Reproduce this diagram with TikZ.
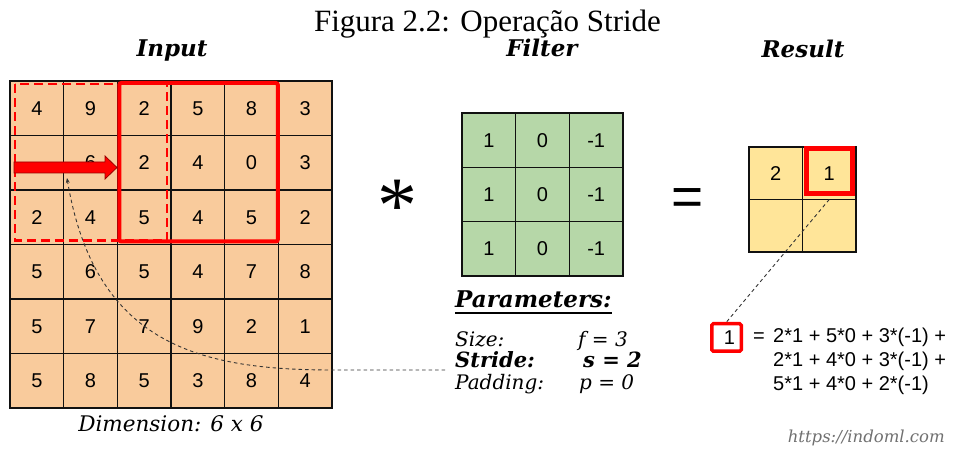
\documentclass[tikz,border=0pt]{standalone}
\usepackage{fontspec}
\setmainfont{Liberation Serif}
\setsansfont{Liberation Sans}
\newfontfamily\geo{DejaVu Serif}
\usetikzlibrary{calc,arrows.meta}

\definecolor{inputfill}{HTML}{F9CB9C}
\definecolor{filterfill}{HTML}{B6D7A8}
\definecolor{resultfill}{HTML}{FFE599}
\definecolor{hlred}{HTML}{FF0000}
\definecolor{arrowedge}{HTML}{990000}
\definecolor{gridline}{HTML}{111111}
\definecolor{linkgray}{HTML}{333333}
\definecolor{urlgray}{HTML}{707070}

\begin{document}
\begin{tikzpicture}[x=1bp, y={(0bp,-1bp)},
  num/.style={font=\sffamily\fontsize{20bp}{24bp}\selectfont},
  cell/.style={draw=gridline, line width=1.1bp, inner sep=0pt, outer sep=0pt, num},
  incell/.style={cell, fill=inputfill, minimum width=53.67bp, minimum height=54.5bp},
  fcell/.style={cell, fill=filterfill, minimum width=53.67bp, minimum height=54.33bp},
  rcell/.style={cell, fill=resultfill, minimum width=53.5bp, minimum height=52.5bp},
  heading/.style={font=\geo\bfseries\itshape\fontsize{23bp}{26bp}\selectfont, anchor=base, inner sep=0pt},
  param/.style={font=\geo\itshape\fontsize{20bp}{23bp}\selectfont, anchor=base west, inner sep=0pt},
  parambold/.style={font=\geo\bfseries\itshape\fontsize{21bp}{24bp}\selectfont, anchor=base west, inner sep=0pt},
  formula/.style={font=\sffamily\fontsize{20bp}{23bp}\selectfont, anchor=base west, inner sep=0pt},
  window/.style={draw=hlred, line width=4bp, rounded corners=2bp},
  link/.style={draw=linkgray, line width=0.9bp, dash pattern=on 3.5bp off 3bp}
]
\useasboundingbox (0,0) rectangle (960,450);

% caption
\node[font=\fontsize{31bp}{36bp}\selectfont, anchor=base, inner sep=0pt] (caption) at (487.5,32) {Figura 2.2: Operação Stride};

% headings
\node[heading] (hinput) at (172,57) {Input};
\node[heading] (hfilter) at (542,57) {Filter};
\node[heading] (hresult) at (803,58) {Result};

% 6x6 input
\foreach \rowvals [count=\r] in {{4,9,2,5,8,3},{{},6,2,4,0,3},{2,4,5,4,5,2},{5,6,5,4,7,8},{5,7,7,9,2,1},{5,8,5,3,8,4}}{
  \foreach \v [count=\c] in \rowvals {
    \node[incell] (in-\r-\c) at ({10+53.67*(\c-0.5)},{81+54.5*(\r-0.5)}) {\v};
  }
}

% 3x3 filter
\foreach \rowvals [count=\r] in {{1,0,-1},{1,0,-1},{1,0,-1}}{
  \foreach \v [count=\c] in \rowvals {
    \node[fcell] (f-\r-\c) at ({462+53.67*(\c-0.5)},{113+54.33*(\r-0.5)}) {\v};
  }
}

% 2x2 result
\foreach \rowvals [count=\r] in {{2,1},{{},{}}}{
  \foreach \v [count=\c] in \rowvals {
    \node[rcell] (res-\r-\c) at ({749+53.5*(\c-0.5)},{147+52.5*(\r-0.5)}) {\v};
  }
}

% previous window (dashed) and current window (solid)
\draw[hlred, line width=2.5bp, dash pattern=on 9bp off 5bp]
  ($(in-1-1.north west)+(5.25,3.25)$) rectangle ($(in-3-3.south east)+(-4.25,-3.75)$);
\draw[window] ($(in-1-3.north west)+(2,2)$) rectangle ($(in-3-5.south east)+(-0.5,-3)$);

% stride arrow
\fill[hlred, draw=arrowedge, line width=0.8bp]
  (14,162) -- (105,162) -- (105,156) -- (117,167.5) -- (105,179) -- (105,173) -- (14,173) -- cycle;
\coordinate (arrowfoot) at (67,178);

% operators
\node[font=\fontsize{80bp}{80bp}\selectfont, anchor=base, inner sep=0pt] (conv) at (397,233) {*};
\node[font=\sffamily\fontsize{55bp}{55bp}\selectfont, anchor=center, inner sep=0pt] (equals) at (688,202) {=};

% highlighted result value
\draw[hlred, line width=5bp] ($(res-1-2.north west)+(4,2)$) rectangle ($(res-1-2.south east)+(-3.5,-5.5)$);

% parameters
\node[parambold, font=\geo\bfseries\itshape\fontsize{23bp}{26bp}\selectfont] (params) at (455,308) {Parameters:};
\draw[line width=1.5bp] ($(params.base west)+(0,5)$) -- ($(params.base east)+(0,5)$);
\node[param] (size) at (455,347) {Size:};
\node[param] (fval) at (578,347) {f = 3};
\node[parambold] (stride) at (455,368) {Stride:};
\node[parambold] (sval) at (583,368) {s = 2};
\node[param] (padding) at (455,389) {Padding:};
\node[param] (pval) at (579,389) {p = 0};

% link from the stride value to the step on the input
\coordinate (bend) at (333,370);
\draw[link, -{Stealth[length=5bp,width=4bp]}]
  ($(stride.base west)+(-10,2)$) -- (bend) .. controls (200,370) and (95,345) .. (arrowfoot);

% computation of the highlighted value
\node[draw=hlred, line width=3.5bp, rounded corners=1.5bp, minimum width=29.5bp, minimum height=27.5bp,
      inner sep=0pt, font=\sffamily\fontsize{20bp}{23bp}\selectfont] (one) at (726.5,337.5) {\hspace*{6bp}1};
\draw[link] (res-1-2.south) -- (one.north);
\node[formula] (eq) at (753,343) {=};
\node[formula] (line1) at (773,343) {2*1 + 5*0 + 3*(-1) +};
\node[formula] (line2) at (773,367) {2*1 + 4*0 + 3*(-1) +};
\node[formula] (line3) at (773,390) {5*1 + 4*0 + 2*(-1)};

% footer
\node[font=\geo\itshape\fontsize{21.5bp}{25bp}\selectfont, anchor=base, inner sep=0pt] (dim) at (171,431) {Dimension: 6 x 6};
\node[font=\geo\itshape\fontsize{16.5bp}{19bp}\selectfont, text=urlgray, anchor=base east, inner sep=0pt] (url) at (945,442) {https://indoml.com};
\end{tikzpicture}
\end{document}
